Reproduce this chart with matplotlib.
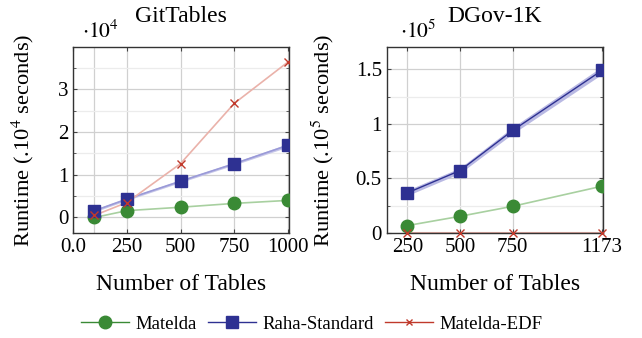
import matplotlib
matplotlib.use("Agg")
import matplotlib.pyplot as plt
from matplotlib.ticker import MultipleLocator, FixedLocator

plt.rcParams['font.family'] = ['Liberation Serif', 'DejaVu Serif']
plt.rcParams['mathtext.fontset'] = 'stix'

# GitTables (runtime in 10^4 seconds)
git_tables = [100, 250, 500, 750, 1000]
git_matelda = [0.0, 0.16, 0.24, 0.33, 0.40]
git_raha = [0.16, 0.43, 0.85, 1.26, 1.69]
git_raha_err = [0.03, 0.03, 0.03, 0.03, 0.04]
git_edf = [0.05, 0.35, 1.26, 2.67, 3.64]

# DGov-1K (runtime in 10^5 seconds)
dgov_tables = [250, 500, 750, 1173]
dgov_matelda = [0.067, 0.152, 0.244, 0.428]
dgov_raha = [0.367, 0.572, 0.94, 1.49]
dgov_raha_err = [0.025, 0.025, 0.03, 0.035]
dgov_edf = [0.0, 0.0, 0.0, 0.0]

green = '#3a8a35'
blue = '#2e3192'
red = '#c0392b'


def style_axes(ax):
    ax.grid(True, which='major', color='#d0d0d0', lw=0.9)
    ax.grid(True, which='minor', axis='y', color='#ececec', lw=0.9)
    ax.set_axisbelow(True)
    ax.tick_params(which='both', direction='in', top=True, right=True,
                   labelsize=15, length=3, color='#444444')
    ax.tick_params(which='minor', length=2)
    for s in ax.spines.values():
        s.set_color('#333333')
        s.set_linewidth(1.0)


fig = plt.figure(figsize=(6.42, 3.38), dpi=100)
ax1 = fig.add_axes([0.1137, 0.311, 0.3366, 0.550])
ax2 = fig.add_axes([0.6023, 0.311, 0.3366, 0.550])

# left panel
ax1.plot(git_tables, git_matelda, color='#a8d0a0', lw=1.2, zorder=2)
ax1.plot(git_tables, git_matelda, 'o', color=green, ms=9, zorder=3)
lo = [v - e for v, e in zip(git_raha, git_raha_err)]
hi = [v + e for v, e in zip(git_raha, git_raha_err)]
ax1.fill_between(git_tables, lo, hi, color='#c6c6e8', lw=0, zorder=2)
ax1.plot(git_tables, git_raha, color='#9a9ad8', lw=1.2, zorder=2)
ax1.plot(git_tables, git_raha, 's', color=blue, ms=9, zorder=3)
ax1.plot(git_tables, git_edf, color='#eab2aa', lw=1.2, zorder=2)
ax1.plot(git_tables, git_edf, 'x', color=red, ms=6, mew=1.0, zorder=4)
ax1.set_xlim(0, 1005)
ax1.set_ylim(-0.36, 3.99)
ax1.xaxis.set_major_locator(FixedLocator([0, 250, 500, 750, 1000]))
ax1.set_xticklabels(['0.0', '250', '500', '750', '1000'])
ax1.xaxis.set_minor_locator(FixedLocator([100]))
ax1.grid(True, which='minor', axis='x', color='#d0d0d0', lw=0.9)
ax1.yaxis.set_major_locator(MultipleLocator(1))
ax1.yaxis.set_minor_locator(MultipleLocator(0.5))
style_axes(ax1)
ax1.tick_params(which='minor', axis='x', length=0)
ax1.set_title('GitTables', fontsize=17, pad=18)
ax1.text(0.04, 1.02, r'$\cdot 10^4$', transform=ax1.transAxes, fontsize=15.5,
         ha='left', va='bottom')
ax1.set_xlabel('Number of Tables', fontsize=17)
ax1.set_ylabel(r'Runtime (.10$^4$ seconds)', fontsize=16.2)
ax1.xaxis.set_label_coords(0.5, -0.22)
ax1.yaxis.set_label_coords(-0.17, 0.5)

# right panel
ax2.plot(dgov_tables, dgov_matelda, color='#a8d0a0', lw=1.2, zorder=2)
ax2.plot(dgov_tables, dgov_matelda, 'o', color=green, ms=9, zorder=3)
lo = [v - e for v, e in zip(dgov_raha, dgov_raha_err)]
hi = [v + e for v, e in zip(dgov_raha, dgov_raha_err)]
ax2.fill_between(dgov_tables, lo, hi, color='#b9b9e3', lw=0, zorder=2)
ax2.plot(dgov_tables, dgov_raha, color=blue, lw=1.0, zorder=2)
ax2.plot(dgov_tables, dgov_raha, 's', color=blue, ms=9, zorder=3)
ax2.plot(dgov_tables, dgov_edf, color='#e0aaa2', lw=1.5, zorder=2, clip_on=False)
ax2.plot(dgov_tables, dgov_edf, 'x', color=red, ms=6, mew=1.0, zorder=4,
         clip_on=False)
ax2.set_xlim(152, 1177)
ax2.set_ylim(0, 1.705)
ax2.xaxis.set_major_locator(FixedLocator(dgov_tables))
ax2.yaxis.set_major_locator(MultipleLocator(0.5))
ax2.yaxis.set_minor_locator(MultipleLocator(0.25))
style_axes(ax2)
ax2.yaxis.set_major_formatter(plt.FuncFormatter(lambda v, p: f'{v:g}'))
ax2.set_title('DGov-1K', fontsize=17, pad=18)
ax2.text(0.06, 1.02, r'$\cdot 10^5$', transform=ax2.transAxes, fontsize=15.5,
         ha='left', va='bottom')
ax2.set_xlabel('Number of Tables', fontsize=17)
ax2.set_ylabel(r'Runtime (.10$^5$ seconds)', fontsize=16.2)
ax2.xaxis.set_label_coords(0.5, -0.22)
ax2.yaxis.set_label_coords(-0.235, 0.5)

handles = [
    plt.Line2D([], [], color=green, marker='o', ms=9, lw=1.0),
    plt.Line2D([], [], color=blue, marker='s', ms=9, lw=1.0),
    plt.Line2D([], [], color=red, marker='x', ms=5, mew=1.0, lw=1.0),
]
fig.legend(handles, ['Matelda', 'Raha-Standard', 'Matelda-EDF'],
           loc='center', bbox_to_anchor=(0.485, 0.04), ncol=3, frameon=False,
           fontsize=13.5, handlelength=2.6, columnspacing=0.6, handletextpad=0.3)

fig.savefig('out.png', dpi=100)
